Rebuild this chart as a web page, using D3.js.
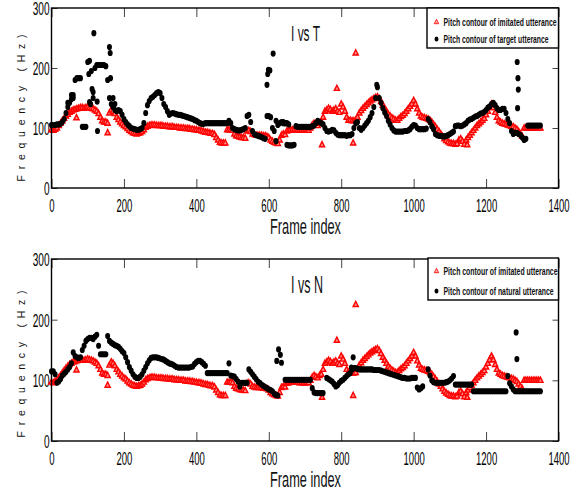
<!DOCTYPE html>
<html>
<head>
<meta charset="utf-8">
<script src="https://cdn.jsdelivr.net/npm/d3@7/dist/d3.min.js"></script>
<style>
  html, body { margin: 0; padding: 0; background: #fff; }
  svg { display: block; }
</style>
</head>
<body>
<svg id="chart"></svg>
<script>
// pitch values (Hz), one value every 5 frames starting at frame 0
const FRAME_STEP = 5;

const imitated = [
  97,96,98,100,104,108,112,116,120,123,          // 0
  126,128,130,131,132,133,134,134,133,134,       // 50
  135,134,133,132,130,128,124,118,112,110,       // 100
  110,108,125,130,128,124,118,114,110,107,       // 150
  104,102,99,96,94,92,91,90,91,92,               // 200
  94,97,101,103,104,105,105,105,104,104,         // 250
  104,104,103,103,103,102,102,102,101,101,       // 300
  101,100,100,100,99,99,99,98,98,97,             // 350
  97,96,96,95,94,93,93,92,91,91,                 // 400
  89,84,80,76,75,75,75,97,97,97,                 // 450
  96,90,87,86,85,84,84,83,95,96,                 // 500
  94,90,89,88,88,88,88,87,87,86,                 // 550
  84,80,78,76,75,74,80,88,90,89,                 // 600
  95,96,97,97,97,97,97,96,96,96,                 // 650
  96,96,96,100,105,108,106,104,108,110,          // 700
  118,128,130,133,131,128,130,132,128,126,       // 750
  140,135,128,118,113,113,112,112,113,118,       // 800
  125,129,133,136,139,142,145,147,149,151,       // 850
  152,149,144,138,133,128,123,120,117,115,       // 900
  113,113,116,119,121,124,128,132,136,140,       // 950
  146,140,132,125,120,118,117,116,115,113,       // 1000
  110,106,102,98,94,90,86,82,79,77,              // 1050
  75,74,74,73,74,80,82,78,73,80,                 // 1100
  84,88,92,96,100,104,107,110,113,116,           // 1150
  122,128,134,140,134,126,118,112,110,108,       // 1200
  107,106,105,104,103,102,100,98,94,90,          // 1250
  86,100,100,100,100,100,100,100,100,100,        // 1300
  100                                            // 1350
];

const target = [
  105,105,105,106,106,107,110,115,125,135,       // 0
  142,148,155,180,183,183,183,102,102,102,       // 50
  210,212,195,160,200,205,205,205,205,205,       // 100
  203,180,150,140,135,130,128,130,128,122,       // 150
  115,110,106,103,100,99,98,97,97,98,            // 200
  100,108,125,138,145,150,152,155,158,160,       // 250
  158,150,140,135,128,122,124,125,124,123,       // 300
  122,122,121,120,119,118,117,116,115,113,       // 350
  112,110,108,107,107,108,108,108,108,108,       // 400
  108,108,108,108,108,108,108,108,112,108,       // 450
  100,98,97,96,96,97,98,100,120,122,             // 500
  110,95,90,88,87,86,85,83,82,120,               // 550
  120,118,100,95,78,105,108,110,110,108,         // 600
  72,71,71,71,72,103,102,102,102,102,            // 650
  102,102,102,102,103,104,108,112,110,108,       // 700
  106,100,95,94,95,97,96,92,89,88,               // 750
  88,88,88,87,88,88,90,100,108,110,              // 800
  100,97,100,104,108,112,118,125,135,150,        // 850
  168,150,142,133,126,120,112,106,100,96,        // 900
  94,94,94,94,94,95,95,96,98,102,                // 950
  105,104,100,98,98,98,98,99,115,110,            // 1000
  103,98,90,88,87,87,86,86,87,88,                // 1050
  90,92,94,103,104,104,103,104,106,108,          // 1100
  112,114,115,117,119,120,122,124,125,127,       // 1150
  130,134,136,140,142,138,133,130,130,132,       // 1200
  132,125,115,108,95,90,92,92,90,88,             // 1250
  84,80,82,104,104,104,104,104,104,104,          // 1300
  104                                            // 1350
];

const natural = [
  115,115,110,96,98,102,108,111,114,118,         // 0
  122,128,146,140,138,137,138,150,157,165,       // 50
  168,170,170,168,172,175,157,143,143,143,       // 100
  143,173,165,162,160,158,157,155,152,148,       // 150
  145,138,130,122,116,110,106,104,104,106,       // 200
  110,116,122,128,133,137,138,138,138,137,       // 250
  136,135,134,132,130,128,127,126,124,122,       // 300
  121,121,121,121,121,121,121,122,123,127,       // 350
  130,132,132,130,127,124,112,112,112,112,       // 400
  112,112,112,112,112,112,112,112,128,108,       // 450
  107,106,102,98,90,96,96,96,96,118,             // 500
  114,110,106,102,98,96,93,91,89,87,             // 550
  85,84,82,78,76,75,null,null,null,101,          // 600
  101,101,101,101,101,101,101,101,101,101,       // 650
  101,101,101,101,87,80,79,79,79,79,             // 700
  79,null,104,102,100,98,94,90,92,96,            // 750
  99,101,104,107,110,112,118,120,120,119,        // 800
  118,118,118,118,118,118,118,118,117,117,       // 850
  117,117,116,115,114,113,112,111,110,109,       // 900
  108,107,106,105,104,104,103,103,103,104,       // 950
  104,104,88,85,87,90,null,null,118,108,         // 1000
  100,97,96,96,96,96,96,96,97,98,                // 1050
  100,103,107,93,93,93,93,93,93,93,              // 1100
  93,93,93,82,82,82,82,82,82,82,                 // 1150
  82,82,82,82,82,82,82,82,82,82,                 // 1200
  82,82,107,95,90,85,82,82,82,82,                // 1250
  82,82,82,82,82,82,82,82,82,82,                 // 1300
  82                                             // 1350
];

// stray points off the main contours: [frame, Hz]
const imitatedExtra = [[69,117],[155,92],[747,72],[788,166],[833,75],[840,225],[1148,72]];
const targetExtra = [
  [45,142],[55,155],[60,150],[103,190],[105,143],[108,140],[112,165],[115,150],
  [117,258],[126,144],[127,95],[160,235],[162,225],[163,183],[170,150],[175,140],
  [595,172],[597,190],[599,197],[603,196],[612,224],[620,112],[640,108],[645,108],
  [650,108],[655,106],[898,172],[1286,210],[1288,183],[1289,164],[1287,133]
];
const naturalExtra = [[622,132],[627,151],[632,142],[635,129],[828,121],[833,138],[1283,179],[1285,135]];

const xTicks = [0, 200, 400, 600, 800, 1000, 1200, 1400];
const yTicks = [0, 100, 200, 300];

const panels = [
  { title: "I vs T", other: target, otherExtra: targetExtra,
    labels: ["Pitch contour of imitated utterance", "Pitch contour of target utterance"] },
  { title: "I vs N", other: natural, otherExtra: naturalExtra,
    labels: ["Pitch contour of imitated utterance", "Pitch contour of natural utterance"] }
];

const W = 586, H = 495;
const svg = d3.select("#chart").attr("width", W).attr("height", H);

const narrow = "'Liberation Sans Narrow', 'Liberation Sans', Arial, sans-serif";

const x = d3.scaleLinear().domain([0, 1400]).range([51.5, 558.5]);

const toPoints = (arr, extra) =>
  arr.map((v, i) => ({ f: i * FRAME_STEP, hz: v }))
    .filter(d => d.hz != null)
    .concat(extra.map(d => ({ f: d[0], hz: d[1] })));

const triPath = "M0,-3.2L2.6,2L-2.6,2Z";

// the figure was stretched tall, so text gets a vertical scale
function tallText(sel, tx, ty, sy) {
  return sel.attr("transform", `translate(${tx},${ty}) scale(1,${sy})`);
}

// layout of each panel
const boxes = [
  { top: 8, bottom: 188, yLab: 108, titleY: 41, titleW: 29, xLabY: 234,
    legend: { x0: 427, y0: 8, y1: 48, rows: [22, 39], widths: [113, 105] } },
  { top: 259, bottom: 441, yLab: 364, titleY: 293, titleW: 32, xLabY: 487,
    legend: { x0: 428, y0: 258, y1: 300, rows: [271, 291], widths: [114, 110] } }
];

panels.forEach((p, k) => {
  const b = boxes[k];
  const y = d3.scaleLinear().domain([0, 300]).range([b.bottom, b.top]);
  const g = svg.append("g");

  // ticks (inward) on all four sides
  const xb = g.append("g").attr("transform", `translate(0,${b.bottom})`)
    .call(d3.axisBottom(x).tickValues(xTicks).tickSizeInner(-9).tickSizeOuter(0)
      .tickFormat(d3.format("d")));
  xb.selectAll("text")
    .attr("y", null).attr("dy", null)
    .attr("transform", "translate(0,24) scale(1,1.5)")
    .style("font-family", narrow).style("font-size", "12px").style("fill", "#000")
    .attr("textLength", d => String(d).length * 5.3)
    .attr("lengthAdjust", "spacingAndGlyphs");

  g.append("g").attr("transform", `translate(0,${b.top})`)
    .call(d3.axisTop(x).tickValues(xTicks).tickSizeInner(-9).tickSizeOuter(0).tickFormat(""));

  const yl = g.append("g").attr("transform", `translate(${x(0)},0)`)
    .call(d3.axisLeft(y).tickValues(yTicks).tickSizeInner(-6).tickSizeOuter(0));
  yl.selectAll("text")
    .attr("x", null).attr("dy", null).attr("y", null)
    .attr("transform", "translate(-2,6.5) scale(1,1.5)")
    .style("font-family", narrow).style("font-size", "12px").style("fill", "#000")
    .attr("textLength", d => String(d).length * 5.6)
    .attr("lengthAdjust", "spacingAndGlyphs");

  g.append("g").attr("transform", `translate(${x(1400)},0)`)
    .call(d3.axisRight(y).tickValues(yTicks).tickSizeInner(-6).tickSizeOuter(0).tickFormat(""));

  g.selectAll(".domain").remove();
  g.selectAll(".tick line").attr("stroke", "#444").attr("stroke-width", 1);

  // data markers
  const imPts = toPoints(imitated, imitatedExtra);
  const otPts = toPoints(p.other, p.otherExtra);

  g.append("g").selectAll("path")
    .data(imPts).enter().append("path")
    .attr("d", triPath)
    .attr("transform", d => `translate(${x(d.f)},${y(d.hz)})`)
    .attr("fill", "#ff8c8c").attr("stroke", "#ff0000").attr("stroke-width", 1.4);

  g.append("g").selectAll("ellipse")
    .data(otPts).enter().append("ellipse")
    .attr("cx", d => x(d.f)).attr("cy", d => y(d.hz))
    .attr("rx", 2.5).attr("ry", 3.1)
    .attr("fill", "#000");

  // frame
  g.append("rect")
    .attr("x", x(0)).attr("y", b.top)
    .attr("width", x(1400) - x(0)).attr("height", b.bottom - b.top)
    .attr("fill", "none").attr("stroke", "#000").attr("stroke-width", 1.4);

  // title
  tallText(g.append("text"), 291, b.titleY, 1.25)
    .attr("textLength", b.titleW).attr("lengthAdjust", "spacingAndGlyphs")
    .style("font-family", narrow).style("font-size", (k ? 19 : 17.5) + "px").style("fill", "#111")
    .text(p.title);

  // axis labels
  tallText(g.append("text"), 305.5, b.xLabY, 1.4)
    .attr("text-anchor", "middle")
    .attr("textLength", 71).attr("lengthAdjust", "spacingAndGlyphs")
    .style("font-family", narrow).style("font-size", "15.5px").style("fill", "#111")
    .text("Frame index");

  g.append("text")
    .attr("transform", `translate(25,${b.yLab}) rotate(-90)`)
    .attr("text-anchor", "middle")
    .attr("textLength", 147).attr("lengthAdjust", "spacing")
    .style("font-family", "'Liberation Sans', Arial, sans-serif").style("font-size", "10.5px")
    .style("fill", "#111")
    .text("Frequency (Hz)");

  // legend
  const L = b.legend;
  const lg = g.append("g");
  lg.append("rect")
    .attr("x", L.x0).attr("y", L.y0)
    .attr("width", x(1400) - L.x0).attr("height", L.y1 - L.y0)
    .attr("fill", "#fff").attr("stroke", "#000").attr("stroke-width", 1.4);
  lg.append("path")
    .attr("d", triPath)
    .attr("transform", `translate(436.5,${L.rows[0]}) scale(0.85)`)
    .attr("fill", "#ffb0b0").attr("stroke", "#ff0000").attr("stroke-width", 1);
  lg.append("ellipse")
    .attr("cx", 436.5).attr("cy", L.rows[1])
    .attr("rx", 2).attr("ry", 2.6).attr("fill", "#000");
  p.labels.forEach((t, i) => {
    tallText(lg.append("text"), 443.5, L.rows[i] + 4, 1.4)
      .attr("textLength", L.widths[i]).attr("lengthAdjust", "spacingAndGlyphs")
      .style("font-family", narrow).style("font-size", "7.8px").style("font-weight", "bold")
      .style("fill", "#111")
      .text(t);
  });
});
</script>
</body>
</html>
